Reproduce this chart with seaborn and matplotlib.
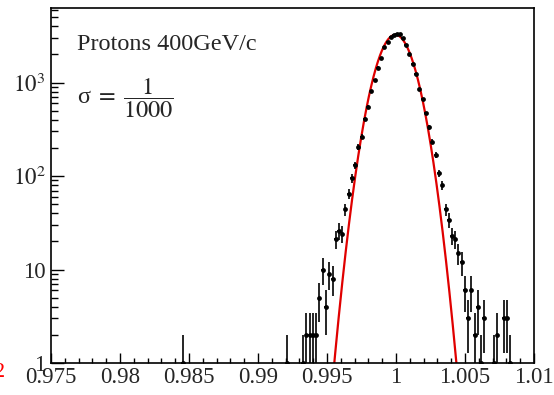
import matplotlib
matplotlib.use("Agg")
import matplotlib.pyplot as plt
import seaborn as sns
import numpy as np
import pandas as pd
from matplotlib.ticker import MultipleLocator, FixedLocator, FixedFormatter, LogLocator, NullFormatter

# bin centres (x/p) and entries
bin_x = [0.98457, 0.99212, 0.99328, 0.99350, 0.99374, 0.99398, 0.99422,
         0.99444, 0.99469, 0.99493, 0.99517, 0.99541, 0.99564, 0.99587,
         0.99610, 0.99633, 0.99657, 0.99680, 0.99703, 0.99726, 0.99750,
         0.99774, 0.99798, 0.99822, 0.99846, 0.99870, 0.99893, 0.99916,
         0.99939, 0.99961, 0.99983, 1.00005, 1.00028, 1.00049, 1.00072,
         1.00096, 1.00120, 1.00144, 1.00168, 1.00193, 1.00217, 1.00241,
         1.00264, 1.00288, 1.00312, 1.00335, 1.00359, 1.00383, 1.00406,
         1.00429, 1.00452, 1.00475, 1.00498, 1.00522, 1.00546, 1.00569,
         1.00592, 1.00615, 1.00638, 1.00707, 1.00734, 1.00783, 1.00807,
         1.00828]
counts = [1, 1, 1, 2, 2, 2, 2,
          5, 10, 4, 9, 8, 21, 26,
          24, 44, 65, 95, 131, 206, 263,
          404, 555, 805, 1065, 1450, 1815, 2380,
          2690, 3090, 3220, 3300, 3280, 3015, 2520,
          2000, 1600, 1225, 846, 661, 469, 332,
          233, 168, 107, 80, 44, 34, 23,
          21, 15, 12, 6, 3, 6, 2,
          4, 1, 3, 1, 2, 3, 3,
          1]
half_bin = 0.00012

# gaussian fit parameters
fit_amp = 3250.0
fit_mean = 0.99995
fit_sigma = 0.0011

x_ticks = [0.975, 0.98, 0.985, 0.99, 0.995, 1.0, 1.005, 1.01]
x_labels = ["0.975", "0.98", "0.985", "0.99", "0.995", "1", "1.005", "1.01"]
y_ticks = [1, 10, 100, 1000]
y_labels = ["1", "10", r"$10^{2}$", r"$10^{3}$"]

sns.set_style("ticks")
plt.rcParams["font.family"] = ["Liberation Serif", "DejaVu Serif"]
plt.rcParams["mathtext.fontset"] = "stix"

df = pd.DataFrame({"x": bin_x, "n": counts})
df["err"] = np.sqrt(df["n"])
lower = np.minimum(df["err"], df["n"] * 0.999)

fig, ax = plt.subplots(figsize=(5.54, 3.95), dpi=100)
fig.subplots_adjust(left=0.092, right=0.964, bottom=0.081, top=0.980)
ax.set_yscale("log", nonpositive="clip")

# fit curve
xf = np.linspace(0.9935, 1.0065, 800)
yf = fit_amp * np.exp(-0.5 * ((xf - fit_mean) / fit_sigma) ** 2)
sns.lineplot(x=xf, y=yf, color="#e00000", lw=1.6, ax=ax, zorder=2)

# data with error bars
ax.errorbar(df["x"], df["n"], yerr=[lower, df["err"]], xerr=half_bin,
            fmt="none", ecolor="black", elinewidth=1.2, zorder=3)
sns.scatterplot(data=df, x="x", y="n", color="black", s=12, linewidth=0,
                ax=ax, zorder=4)

ax.set_xlim(0.975, 1.01)
ax.set_ylim(1, 6300)
ax.set_xlabel("")
ax.set_ylabel("")

ax.xaxis.set_major_locator(FixedLocator(x_ticks))
ax.xaxis.set_major_formatter(FixedFormatter(x_labels))
ax.xaxis.set_minor_locator(MultipleLocator(0.001))
ax.yaxis.set_major_locator(FixedLocator(y_ticks))
ax.yaxis.set_major_formatter(FixedFormatter(y_labels))
ax.yaxis.set_minor_locator(LogLocator(base=10, subs=np.arange(2, 10)))
ax.yaxis.set_minor_formatter(NullFormatter())

ax.tick_params(axis="both", which="both", direction="in", color="black",
               top=False, right=False, labelsize=16.5, width=1)
ax.tick_params(axis="x", which="major", length=7.5, pad=3)
ax.tick_params(axis="x", which="minor", length=3.8)
ax.tick_params(axis="y", which="major", length=9, pad=4)
ax.tick_params(axis="y", which="minor", length=5)

for sp in ax.spines.values():
    sp.set_visible(True)
    sp.set_linewidth(1.2)
    sp.set_color("black")

ax.text(0.054, 0.896, "Protons 400GeV/c", transform=ax.transAxes,
        fontsize=17.5, ha="left", va="center")
ax.text(0.054, 0.745, r"σ$\;=\;\dfrac{1}{1000}$", transform=ax.transAxes,
        fontsize=17.5, ha="left", va="center")

fig.text(5.5 / 554, 0.058, "2", color="red", fontsize=16, ha="right",
         va="center")

fig.savefig("out.png", dpi=100)
